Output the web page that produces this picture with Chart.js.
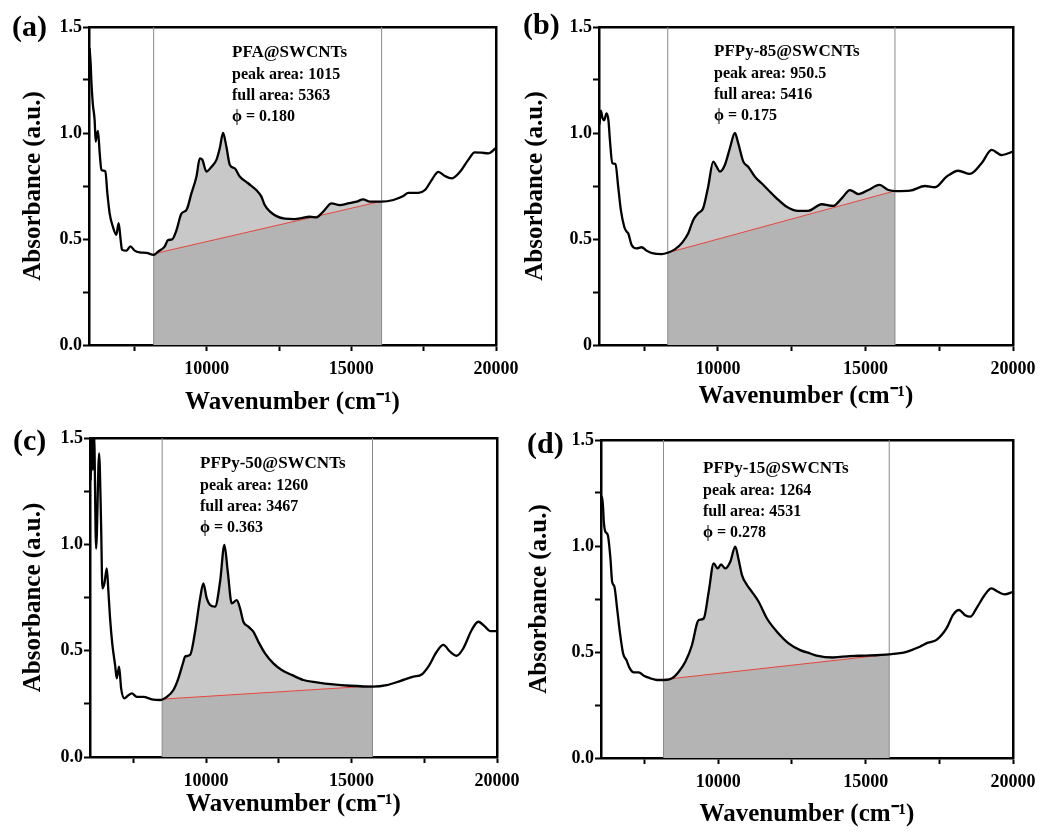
<!DOCTYPE html>
<html>
<head>
<meta charset="utf-8">
<script src="https://cdn.jsdelivr.net/npm/chart.js@4.4.1/dist/chart.umd.min.js"></script>
<style>
  body { margin: 0; background: #fff; }
  #wrap { position: relative; width: 1040px; height: 832px; }
  canvas { position: absolute; }
</style>
</head>
<body>
<div id="wrap">
  <canvas id="chartA" width="520" height="425" style="left:0px;top:0px"></canvas>
  <canvas id="chartB" width="520" height="425" style="left:520px;top:0px"></canvas>
  <canvas id="chartC" width="520" height="421" style="left:0px;top:411px"></canvas>
  <canvas id="chartD" width="520" height="421" style="left:520px;top:411px"></canvas>
</div>
<script>
// ---- data ----
const xTickVals = [7500, 10000, 12500, 15000, 17500, 20000];
const xMajor = [10000, 15000, 20000];
const xTickLabels = ['10000', '15000', '20000'];
const yTickVals = [0, 0.25, 0.5, 0.75, 1.0, 1.25, 1.5];
const yMajor = [0, 0.5, 1.0, 1.5];
const yLabels = ['0.0', '0.5', '1.0', '1.5'];
const yLabelsB = ['0', '0.5', '1.0', '1.5'];
const yMax = 1.5;
const xMax = 20000;

// (a) PFA@SWCNTs
const wnA = [5950, 5990, 6010, 6060, 6125, 6160, 6200, 6240, 6300, 6360, 6495, 6565, 6645, 6750, 6875, 6955, 7025, 7070, 7220, 7360, 7510, 7680, 7915, 8165, 8315, 8545, 8660, 8800, 8950, 9125, 9300, 9470, 9645, 9760, 9850, 9990, 10160, 10335, 10450, 10565, 10680, 10800, 10970, 11140, 11430, 11720, 11890, 12005, 12180, 12410, 12700, 13045, 13220, 13565, 13795, 14025, 14315, 14600, 14890, 15180, 15410, 15640, 16045, 16450, 16795, 16970, 17315, 17545, 17775, 18005, 18235, 18465, 18755, 19040, 19265, 19500, 19735, 19990];
const absA = [1.40, 1.32, 1.25, 1.14, 1.06, 0.96, 0.99, 1.01, 0.905, 0.825, 0.82, 0.715, 0.62, 0.56, 0.52, 0.575, 0.495, 0.45, 0.445, 0.465, 0.445, 0.437, 0.435, 0.425, 0.44, 0.464, 0.495, 0.498, 0.54, 0.62, 0.637, 0.715, 0.795, 0.88, 0.873, 0.818, 0.84, 0.873, 0.928, 1.0, 0.935, 0.849, 0.833, 0.795, 0.763, 0.73, 0.70, 0.66, 0.63, 0.608, 0.596, 0.594, 0.597, 0.605, 0.602, 0.629, 0.668, 0.66, 0.668, 0.676, 0.687, 0.676, 0.676, 0.684, 0.703, 0.718, 0.718, 0.731, 0.778, 0.817, 0.797, 0.786, 0.817, 0.873, 0.909, 0.907, 0.904, 0.928];
const edgeA = [8165, 16045];
const baseA = [0.43, 0.678];
const noteA = ['PFA@SWCNTs', 'peak area: 1015', 'full area: 5363', '\u03d5 = 0.180'];

// (b) PFPy-85@SWCNTs
const wnB = [5985, 6034, 6090, 6146, 6225, 6290, 6340, 6420, 6530, 6620, 6710, 6825, 6905, 6960, 7075, 7245, 7415, 7585, 7810, 8090, 8295, 8540, 8790, 8995, 9165, 9330, 9500, 9670, 9840, 9955, 10070, 10235, 10405, 10575, 10690, 10860, 11025, 11255, 11480, 11705, 11990, 12330, 12720, 13060, 13515, 13910, 14195, 14475, 14760, 15100, 15470, 15780, 16035, 16510, 17015, 17355, 17750, 18145, 18540, 18935, 19275, 19615, 20000];
const absB = [1.04, 1.105, 1.07, 1.06, 1.093, 1.06, 0.967, 0.857, 0.854, 0.747, 0.637, 0.558, 0.535, 0.527, 0.472, 0.456, 0.461, 0.445, 0.432, 0.429, 0.435, 0.451, 0.483, 0.527, 0.59, 0.621, 0.645, 0.747, 0.865, 0.841, 0.818, 0.849, 0.928, 1.0, 0.951, 0.865, 0.841, 0.794, 0.763, 0.731, 0.692, 0.652, 0.633, 0.633, 0.664, 0.656, 0.692, 0.731, 0.712, 0.731, 0.755, 0.731, 0.726, 0.728, 0.75, 0.744, 0.794, 0.822, 0.807, 0.857, 0.92, 0.896, 0.912];
const edgeB = [8300, 16000];
const baseB = [0.435, 0.727];
const noteB = ['PFPy-85@SWCNTs', 'peak area: 950.5', 'full area: 5416', '\u03d5 = 0.175'];

// (c) PFPy-50@SWCNTs
const wnC = [6000, 6040, 6075, 6110, 6150, 6220, 6323, 6392, 6436, 6505, 6588, 6643, 6700, 6780, 6873, 6930, 7010, 7080, 7192, 7310, 7447, 7620, 7845, 8135, 8420, 8650, 8877, 9048, 9220, 9278, 9450, 9622, 9794, 9907, 10023, 10137, 10309, 10481, 10630, 10746, 10883, 11055, 11168, 11282, 11454, 11625, 11797, 12027, 12313, 12600, 12945, 13344, 13804, 14375, 14948, 15728, 16210, 16667, 17124, 17412, 17640, 17928, 18155, 18385, 18615, 18842, 19130, 19357, 19588, 19760, 19990];
const absC = [1.55, 1.30, 1.55, 1.35, 1.52, 0.98, 1.427, 1.09, 0.793, 0.816, 0.887, 0.777, 0.652, 0.527, 0.432, 0.37, 0.425, 0.323, 0.276, 0.288, 0.299, 0.283, 0.283, 0.271, 0.268, 0.283, 0.315, 0.37, 0.448, 0.472, 0.48, 0.589, 0.746, 0.816, 0.746, 0.715, 0.707, 0.824, 0.997, 0.871, 0.722, 0.738, 0.699, 0.636, 0.613, 0.589, 0.542, 0.487, 0.44, 0.409, 0.386, 0.362, 0.351, 0.341, 0.335, 0.331, 0.338, 0.357, 0.378, 0.388, 0.425, 0.495, 0.527, 0.495, 0.476, 0.511, 0.597, 0.636, 0.613, 0.592, 0.592];
const edgeC = [8490, 15720];
const baseC = [0.272, 0.334];
const noteC = ['PFPy-50@SWCNTs', 'peak area: 1260', 'full area: 3467', '\u03d5 = 0.363'];

// (d) PFPy-15@SWCNTs
const wnD = [5990, 6020, 6058, 6092, 6115, 6170, 6250, 6340, 6397, 6475, 6566, 6658, 6770, 6881, 6997, 7132, 7302, 7472, 7695, 7922, 8150, 8431, 8658, 8881, 9108, 9278, 9336, 9505, 9675, 9844, 9980, 10092, 10237, 10407, 10576, 10692, 10803, 10973, 11142, 11369, 11651, 11990, 12386, 12780, 13119, 13335, 13898, 14464, 15030, 15797, 16386, 16837, 17120, 17403, 17742, 17966, 18170, 18363, 18555, 18759, 19040, 19267, 19492, 19719, 20000];
const absD = [1.15, 1.225, 1.233, 1.177, 1.115, 1.067, 1.052, 0.942, 0.832, 0.808, 0.706, 0.596, 0.493, 0.462, 0.423, 0.404, 0.404, 0.388, 0.376, 0.368, 0.368, 0.376, 0.407, 0.454, 0.533, 0.635, 0.651, 0.658, 0.784, 0.918, 0.894, 0.913, 0.894, 0.926, 0.997, 0.934, 0.863, 0.816, 0.784, 0.737, 0.658, 0.596, 0.541, 0.509, 0.493, 0.483, 0.474, 0.481, 0.483, 0.489, 0.501, 0.525, 0.544, 0.557, 0.611, 0.675, 0.698, 0.675, 0.667, 0.706, 0.769, 0.8, 0.784, 0.772, 0.784];
const edgeD = [8140, 15800];
const baseD = [0.37, 0.489];
const noteD = ['PFPy-15@SWCNTs', 'peak area: 1264', 'full area: 4531', '\u03d5 = 0.278'];

// ---- layout of each panel (pixels inside its canvas) ----
const panelA = { id: 'chartA', w: 520, h: 425, area: { l: 89, t: 27, r: 496, b: 345 }, xMin: 5930, yTitlePad: 19, xTitlePad: 7, letter: '(a)', letterPos: [12, 28], notePos: [232, 53] };
const panelB = { id: 'chartB', w: 520, h: 425, area: { l: 79, t: 27, r: 493, b: 345 }, xMin: 5970, yTitlePad: 1, xTitlePad: 13, letter: '(b)', letterPos: [3, 26], notePos: [194, 52] };
const panelC = { id: 'chartC', w: 520, h: 421, area: { l: 90, t: 27, r: 497, b: 346 }, xMin: 6010, yTitlePad: 19, xTitlePad: 12, letter: '(c)', letterPos: [13, 31], notePos: [200, 53] };
const panelD = { id: 'chartD', w: 520, h: 421, area: { l: 81, t: 29, r: 493, b: 347 }, xMin: 6020, yTitlePad: 5, xTitlePad: 2, letter: '(d)', letterPos: [7, 34], notePos: [183, 58] };

const noteGaps = [0, 22, 43, 64];
const serif = '"Liberation Serif", "Times New Roman", serif';

Chart.defaults.font.family = serif;
Chart.defaults.color = '#000';

function notesPlugin(p, lines) {
  return {
    id: 'notes',
    afterDraw(chart) {
      const c = chart.ctx;
      c.save();
      c.fillStyle = '#000';
      c.textAlign = 'left';
      c.textBaseline = 'middle';
      c.font = 'bold 30px ' + serif;
      c.fillText(p.letter, p.letterPos[0], p.letterPos[1]);
      lines.forEach((t, i) => {
        c.font = (i === 0 ? 'bold 17px ' : 'bold 16px ') + serif;
        c.fillText(t, p.notePos[0], p.notePos[1] + noteGaps[i]);
      });
      c.restore();
    }
  };
}

function makeChart(p, wn, ab, edge, base, notes, yLab) {
  const spectrum = wn.map((x, i) => ({ x: x, y: ab[i] }));
  const inside = spectrum.filter(pt => pt.x > edge[0] && pt.x < edge[1]);
  const peak = [{ x: edge[0], y: base[0] }].concat(inside, [{ x: edge[1], y: base[1] }]);

  const tickGrid = { display: true, drawOnChartArea: false, drawTicks: true, tickLength: 6, tickWidth: 2, tickColor: '#000' };
  const frame = { display: true, color: '#000', width: 2.5 };
  const noPad = (axis) => { axis.paddingLeft = 0; axis.paddingRight = 0; axis.paddingTop = 0; axis.paddingBottom = 0; };

  new Chart(document.getElementById(p.id), {
    type: 'line',
    data: {
      datasets: [
        { label: 'spectrum', data: spectrum, borderColor: '#000', borderWidth: 2.3, pointRadius: 0, fill: false, cubicInterpolationMode: 'monotone' },
        { label: 'edge1', data: [{ x: edge[0], y: 0 }, { x: edge[0], y: yMax }], borderColor: '#8a8a8a', borderWidth: 1, pointRadius: 0, tension: 0, fill: false },
        { label: 'edge2', data: [{ x: edge[1], y: 0 }, { x: edge[1], y: yMax }], borderColor: '#8a8a8a', borderWidth: 1, pointRadius: 0, tension: 0, fill: false },
        { label: 'baseline', data: [{ x: edge[0], y: base[0] }, { x: edge[1], y: base[1] }], borderColor: '#e8453c', borderWidth: 1, pointRadius: 0, tension: 0, fill: 'origin', backgroundColor: '#b4b4b4' },
        { label: 'peak', data: peak, borderWidth: 0, borderColor: 'rgba(0,0,0,0)', pointRadius: 0, fill: 'origin', backgroundColor: '#c8c8c8', cubicInterpolationMode: 'monotone' }
      ]
    },
    options: {
      responsive: false,
      animation: false,
      devicePixelRatio: 1,
      layout: { padding: { left: 0, top: p.area.t, right: p.w - p.area.r, bottom: 0 } },
      plugins: { legend: { display: false }, tooltip: { enabled: false } },
      scales: {
        x: {
          type: 'linear', position: 'bottom', min: p.xMin, max: xMax,
          afterBuildTicks: (axis) => { axis.ticks = xTickVals.map(v => ({ value: v })); },
          afterFit: (axis) => { axis.height = p.h - p.area.b; noPad(axis); },
          ticks: {
            autoSkip: false, maxRotation: 0, padding: 8, color: '#000',
            font: { size: 18, weight: 'bold' },
            callback: (v) => { const i = xMajor.indexOf(v); return i >= 0 ? xTickLabels[i] : ''; }
          },
          grid: tickGrid,
          border: frame,
          title: { display: true, text: 'Wavenumber (cm\u207b\u00b9)', color: '#000', font: { size: 25, weight: 'bold' }, padding: { top: 0, bottom: p.xTitlePad } }
        },
        y: {
          type: 'linear', position: 'left', min: 0, max: yMax,
          afterBuildTicks: (axis) => { axis.ticks = yTickVals.map(v => ({ value: v })); },
          afterFit: (axis) => { axis.width = p.area.l; noPad(axis); },
          ticks: {
            padding: 1, color: '#000',
            font: { size: 18, weight: 'bold' },
            callback: (v) => { const i = yMajor.indexOf(v); return i >= 0 ? yLab[i] : ''; }
          },
          grid: tickGrid,
          border: frame,
          title: { display: true, text: 'Absorbance (a.u.)', color: '#000', font: { size: 25, weight: 'bold' }, padding: { top: p.yTitlePad, bottom: 0 } }
        },
        x2: {
          type: 'linear', position: 'top',
          afterFit: (axis) => { axis.height = 0; noPad(axis); },
          ticks: { display: false },
          grid: { display: false, drawTicks: false },
          border: frame
        },
        y2: {
          type: 'linear', position: 'right',
          afterFit: (axis) => { axis.width = 0; noPad(axis); },
          ticks: { display: false },
          grid: { display: false, drawTicks: false },
          border: frame
        }
      }
    },
    plugins: [notesPlugin(p, notes)]
  });
}

makeChart(panelA, wnA, absA, edgeA, baseA, noteA, yLabels);
makeChart(panelB, wnB, absB, edgeB, baseB, noteB, yLabelsB);
makeChart(panelC, wnC, absC, edgeC, baseC, noteC, yLabels);
makeChart(panelD, wnD, absD, edgeD, baseD, noteD, yLabels);
</script>
</body>
</html>
